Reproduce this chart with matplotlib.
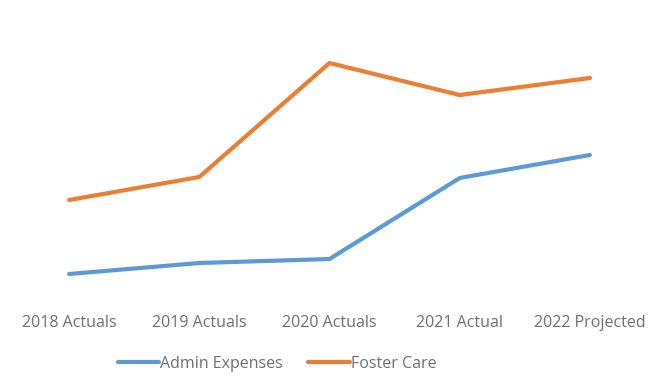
import matplotlib
matplotlib.use("Agg")
import matplotlib.pyplot as plt

# Spending by year (relative units, no value axis shown)
years = ["2018 Actuals", "2019 Actuals", "2020 Actuals", "2021 Actual", "2022 Projected"]
admin_expenses = [26, 37, 41, 122, 145]
foster_care = [100, 123, 237, 205, 222]

BLUE = "#5B9BD5"
ORANGE = "#ED7D31"
TEXT = "#6f6f6f"

plt.rcParams["font.family"] = ["Open Sans", "DejaVu Sans"]

fig = plt.figure(figsize=(6.64, 3.75), dpi=100)
ax = fig.add_axes([4 / 664, 75 / 375, 651 / 664, 280 / 375])

x = range(len(years))
ax.plot(x, admin_expenses, color=BLUE, lw=3, solid_capstyle="round", label="Admin Expenses")
ax.plot(x, foster_care, color=ORANGE, lw=3, solid_capstyle="round", label="Foster Care")

ax.set_xlim(-0.5, len(years) - 0.5)
ax.set_ylim(0, 280)
ax.set_xticks(list(x))
ax.set_xticklabels(years, fontsize=11.5, color=TEXT)
ax.tick_params(axis="x", length=0, pad=11)
ax.set_yticks([])
for s in ax.spines.values():
    s.set_visible(False)

fig.legend(loc="center", bbox_to_anchor=(277 / 664, 1 - 364 / 375), ncol=2,
           frameon=False, fontsize=11.5, labelcolor=TEXT,
           handlelength=2.6, handletextpad=0.05, columnspacing=1.6)

fig.savefig("out.png", dpi=100)
